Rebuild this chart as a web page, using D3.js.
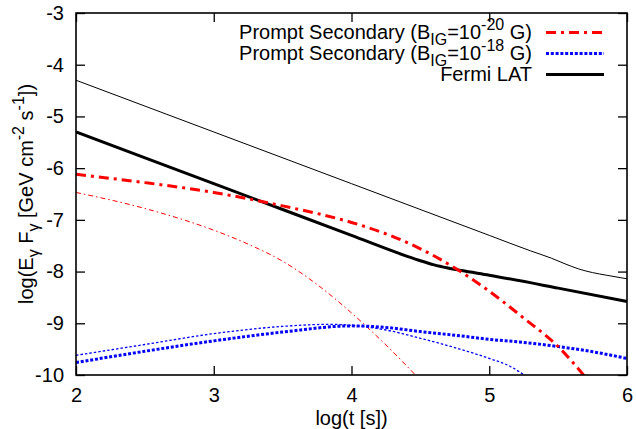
<!DOCTYPE html>
<html>
<head>
<meta charset="utf-8">
<script src="https://cdn.jsdelivr.net/npm/d3@7"></script>
<style>
  html, body { margin: 0; padding: 0; background: #fff; }
  svg { display: block; }
  text { font-family: "Liberation Sans", Arial, Helvetica, sans-serif; white-space: pre; }
</style>
</head>
<body>
<svg id="chart" width="636" height="429"></svg>
<script>
// ---- data ----
const xTicks = [2, 3, 4, 5, 6];
const yTicks = [-3, -4, -5, -6, -7, -8, -9, -10];

// Thick dash-dot red: Prompt Secondary (B_IG = 1e-20 G)
const redThickX = [2, 2.5, 3, 3.5, 4, 4.25, 4.5, 4.78, 5.0, 5.25, 5.5, 5.7];
const redThickY = [-6.12, -6.28, -6.47, -6.73, -7.05, -7.27, -7.56, -7.98, -8.38, -8.9, -9.45, -10.05];
// Thin dash-dot red
const redThinX = [2, 2.5, 3, 3.25, 3.5, 3.75, 4, 4.25, 4.5];
const redThinY = [-6.47, -6.78, -7.2, -7.47, -7.8, -8.25, -8.8, -9.42, -10.1];
// Thick dotted blue: Prompt Secondary (B_IG = 1e-18 G)
const blueThickX = [2, 2.5, 3, 3.5, 4, 4.25, 4.5, 4.75, 5.0, 5.25, 5.5, 5.75, 6];
const blueThickY = [-9.76, -9.54, -9.34, -9.17, -9.05, -9.08, -9.16, -9.23, -9.31, -9.37, -9.45, -9.55, -9.68];
// Thin dotted blue
const blueThinX = [2, 2.5, 3, 3.5, 3.85, 4.0, 4.25, 4.5, 4.75, 5.0, 5.15, 5.27];
const blueThinY = [-9.62, -9.41, -9.2, -9.06, -9.02, -9.04, -9.13, -9.29, -9.47, -9.68, -9.83, -10.03];
// Thick black: Fermi LAT
const fermiThickX = [2, 3, 4, 4.4, 4.5, 4.6, 4.7, 4.8, 5.0, 5.5, 6];
const fermiThickY = [-5.3, -6.3, -7.3, -7.7, -7.79, -7.87, -7.93, -7.98, -8.07, -8.32, -8.58];
// Thin black
const fermiThinX = [2, 3, 4, 5, 5.3, 5.45, 5.55, 5.65, 5.75, 5.85, 6];
const fermiThinY = [-4.3, -5.3, -6.3, -7.3, -7.6, -7.74, -7.85, -7.95, -8.02, -8.07, -8.14];

const legendLabels = [
  [["Prompt Secondary (B", 0], ["IG", -1], ["=10", 0], ["-20", 1], [" G)", 0]],
  [["Prompt Secondary (B", 0], ["IG", -1], ["=10", 0], ["-18", 1], [" G)", 0]],
  [["Fermi LAT", 0]]
];

// ---- layout ----
const W = 636, H = 429;
const L = 76, R = 627, T = 13, B = 375;
const svg = d3.select("#chart");
const x = d3.scaleLinear().domain([2, 6]).range([L, R]);
const y = d3.scaleLinear().domain([-10, -3]).range([B, T]);

svg.append("defs").append("clipPath").attr("id", "clip")
  .append("rect").attr("x", L).attr("y", T).attr("width", R - L).attr("height", B - T);

const fmt = d => String(d);
const tickLen = 9;

function styleAxis(g) {
  g.select(".domain").remove();
  g.selectAll(".tick line").attr("stroke", "#000").attr("stroke-width", 1.3);
  g.selectAll(".tick text").attr("fill", "#000").style("font-size", "20px")
    .style("font-family", "'Liberation Sans', Arial, sans-serif");
}

svg.append("g").attr("transform", `translate(0,${B})`)
  .call(d3.axisBottom(x).tickValues(xTicks).tickFormat(fmt).tickSize(-tickLen).tickPadding(13))
  .call(styleAxis);
svg.append("g").attr("transform", `translate(0,${T})`)
  .call(d3.axisTop(x).tickValues(xTicks).tickFormat("").tickSize(-tickLen))
  .call(styleAxis);
svg.append("g").attr("transform", `translate(${L},0)`)
  .call(d3.axisLeft(y).tickValues(yTicks).tickFormat(fmt).tickSize(-tickLen).tickPadding(12))
  .call(styleAxis);
svg.append("g").attr("transform", `translate(${R},0)`)
  .call(d3.axisRight(y).tickValues(yTicks).tickFormat("").tickSize(-tickLen))
  .call(styleAxis);

// ---- curves ----
const series = [
  { xs: fermiThinX, ys: fermiThinY, color: "#000", w: 1, dash: null },
  { xs: redThinX, ys: redThinY, color: "#ff0000", w: 1, dash: "5,3,1.5,3" },
  { xs: blueThinX, ys: blueThinY, color: "#0000ff", w: 1.3, dash: "2.5,2" },
  { xs: blueThickX, ys: blueThickY, color: "#0000ff", w: 3, dash: "3,1.8" },
  { xs: fermiThickX, ys: fermiThickY, color: "#000", w: 3, dash: null },
  { xs: redThickX, ys: redThickY, color: "#ff0000", w: 3, dash: "10,5,3,5" }
];
const line = d3.line().x(d => x(d[0])).y(d => y(d[1])).curve(d3.curveMonotoneX);
const plot = svg.append("g").attr("clip-path", "url(#clip)");
series.forEach(s => {
  plot.append("path")
    .attr("d", line(d3.zip(s.xs, s.ys)))
    .attr("fill", "none")
    .attr("stroke", s.color)
    .attr("stroke-width", s.w)
    .attr("stroke-dasharray", s.dash);
});

// frame
svg.append("rect").attr("x", L).attr("y", T).attr("width", R - L).attr("height", B - T)
  .attr("fill", "none").attr("stroke", "#000").attr("stroke-width", 1.6);

// ---- legend ----
const legendStyles = [
  { color: "#ff0000", w: 3, dash: "10,5,3,5" },
  { color: "#0000ff", w: 3, dash: "3,1.8" },
  { color: "#000", w: 3, dash: null }
];
const lg = svg.append("g");
legendLabels.forEach((parts, i) => {
  const cy = 32.5 + i * 21;
  const t = lg.append("text").attr("x", 532).attr("y", cy + 6.5)
    .attr("text-anchor", "end").style("font-size", "20px").attr("fill", "#000");
  let shift = 0;
  parts.forEach(([s, k]) => {
    const target = k === -1 ? 5.5 : (k === 1 ? -9 : 0);
    t.append("tspan").attr("dy", target - shift)
      .style("font-size", k === 0 ? "20px" : "16px").text(s);
    shift = target;
  });
  const st = legendStyles[i];
  lg.append("line").attr("x1", 546).attr("x2", 604).attr("y1", cy).attr("y2", cy)
    .attr("stroke", st.color).attr("stroke-width", st.w).attr("stroke-dasharray", st.dash);
});

// ---- axis titles ----
svg.append("text").attr("x", (L + R) / 2).attr("y", 425).attr("text-anchor", "middle")
  .style("font-size", "20px").text("log(t [s])");

const ylab = svg.append("text").attr("transform", `translate(32.5,${(T + B) / 2}) rotate(-90)`)
  .attr("text-anchor", "middle").style("font-size", "20px");
const yParts = [["log(E", 0], ["γ", -1], [" F", 0], ["γ", -1], [" [GeV cm", 0], ["-2", 1], [" s", 0], ["-1", 1], ["])", 0]];
let ys = 0;
yParts.forEach(([s, k]) => {
  const target = k === -1 ? 6 : (k === 1 ? -9 : 0);
  ylab.append("tspan").attr("dy", target - ys).style("font-size", k === 0 ? "20px" : "16px").text(s);
  ys = target;
});
</script>
</body>
</html>
